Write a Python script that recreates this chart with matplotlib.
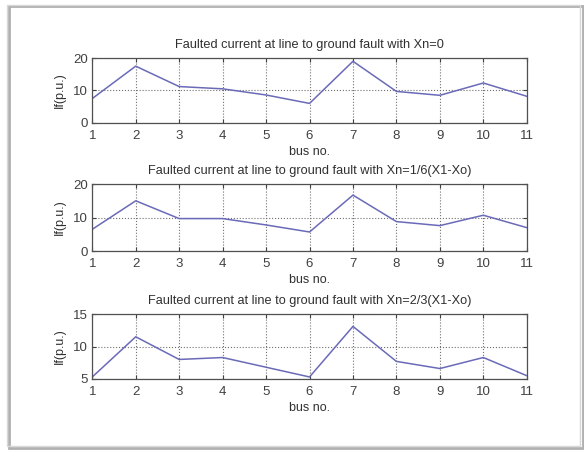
import matplotlib
matplotlib.use("Agg")
import matplotlib.pyplot as plt
from matplotlib.patches import Rectangle

plt.rcParams['font.family'] = ['Liberation Sans', 'DejaVu Sans']

bus = [1, 2, 3, 4, 5, 6, 7, 8, 9, 10, 11]

# faulted current, p.u.
if_xn0 = [7.5, 17.5, 11.2, 10.5, 8.6, 6.0, 19.0, 9.7, 8.5, 12.3, 8.2]
if_xn16 = [6.5, 15.0, 9.7, 9.7, 7.8, 5.7, 16.7, 8.8, 7.6, 10.7, 7.0]
if_xn23 = [5.3, 11.5, 8.0, 8.3, 6.8, 5.3, 13.1, 7.7, 6.6, 8.3, 5.5]

titles = [
    "Faulted current at line to ground fault with Xn=0",
    "Faulted current at line to ground fault with Xn=1/6(X1-Xo)",
    "Faulted current at line to ground fault with Xn=2/3(X1-Xo)",
]
series = [if_xn0, if_xn16, if_xn23]
ylims = [(0, 20), (0, 20), (5, 15)]
yticks = [[0, 10, 20], [0, 10, 20], [5, 10, 15]]

fig = plt.figure(figsize=(5.84, 4.5), dpi=100)
fig.patch.set_facecolor('white')

# window frame of the screenshot
fig.patches.append(Rectangle((0.016, 0.004), 0.982, 0.982, transform=fig.transFigure,
                             fill=False, edgecolor='#b0b0b0', lw=2.0))
fig.patches.append(Rectangle((0.012, 0.008), 0.982, 0.982, transform=fig.transFigure,
                             fill=False, edgecolor='#d8d8d8', lw=1.0))

positions = [
    [0.158, 0.727, 0.744, 0.144],
    [0.158, 0.442, 0.744, 0.149],
    [0.158, 0.158, 0.744, 0.144],
]

for pos, vals, title, yl, yt in zip(positions, series, titles, ylims, yticks):
    ax = fig.add_axes(pos)
    ax.plot(bus, vals, color='#6a6ab8', lw=1.1)
    ax.set_xlim(1, 11)
    ax.set_ylim(*yl)
    ax.set_xticks(bus)
    ax.set_yticks(yt)
    ax.grid(True, linestyle=':', color='#707070', lw=0.8)
    ax.tick_params(direction='in', top=True, right=True, length=3, labelsize=9.5,
                   colors='#404040')
    ax.tick_params(axis='x', pad=5)
    ax.tick_params(axis='y', pad=3)
    for s in ax.spines.values():
        s.set_color('#505050')
        s.set_linewidth(0.9)
    ax.set_title(title, fontsize=9.2, color='#303030', pad=7)
    ax.set_xlabel("bus no.", fontsize=9, color='#303030', labelpad=3)
    ax.set_ylabel("If(p.u.)", fontsize=9, color='#303030', labelpad=5)

fig.savefig("out.png", dpi=100)
